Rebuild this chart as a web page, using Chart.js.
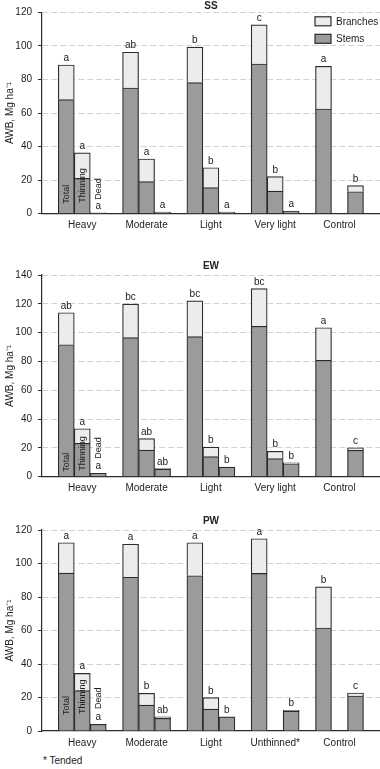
<!DOCTYPE html>
<html>
<head>
<meta charset="utf-8">
<script src="https://cdn.jsdelivr.net/npm/chart.js@4.4.1/dist/chart.umd.min.js"></script>
<style>
  body { margin: 0; background: #fff; }
  #wrap { position: relative; width: 380px; height: 769px; }
  canvas { position: absolute; left: 0; }
  .note { position: absolute; left: 43px; top: 755px; font: 10px "Liberation Sans", Arial, sans-serif; color: #222; }
</style>
</head>
<body>
<div id="wrap">
  <canvas id="chartSS" width="380" height="250" style="top:0"></canvas>
  <canvas id="chartEW" width="380" height="250" style="top:250px"></canvas>
  <canvas id="chartPW" width="380" height="250" style="top:500px"></canvas>
  <div class="note">* Tended</div>
</div>
<script>
const categoriesThinned = ['Heavy', 'Moderate', 'Light', 'Very light', 'Control'];
const categoriesPW = ['Heavy', 'Moderate', 'Light', 'Unthinned*', 'Control'];
const barGroups = ['Total', 'Thinning', 'Dead'];

// SS, Mg/ha
const ssTotalStems = [68.0, 74.9, 78.1, 89.2, 62.4];
const ssTotalBranches = [20.6, 21.3, 21.2, 23.3, 25.4];
const ssThinStems = [21.1, 19.1, 15.5, 13.5, null];
const ssThinBranches = [15.1, 13.5, 11.9, 8.6, null];
const ssDeadStems = [0.5, 1.0, 1.0, 1.6, 13.1];
const ssDeadBranches = [0, 0, 0, 0, 3.6];
const ssTotalLetters = ['a', 'ab', 'b', 'c', 'a'];
const ssThinLetters = ['a', 'a', 'b', 'b', ''];
const ssDeadLetters = ['a', 'a', 'a', 'a', 'b'];

// EW
const ewTotalStems = [91.6, 96.5, 97.2, 104.4, 80.8];
const ewTotalBranches = [22.2, 23.3, 24.9, 26.1, 22.6];
const ewThinStems = [23.2, 18.5, 13.9, 12.5, null];
const ewThinBranches = [10.1, 7.9, 6.7, 5.1, null];
const ewDeadStems = [2.4, 5.3, 6.7, 9.0, 18.3];
const ewDeadBranches = [0, 0.3, 0, 0.7, 1.8];
const ewTotalLetters = ['ab', 'bc', 'bc', 'bc', 'a'];
const ewThinLetters = ['a', 'ab', 'b', 'b', ''];
const ewDeadLetters = ['a', 'ab', 'b', 'b', 'c'];

// PW
const pwTotalStems = [94.3, 91.8, 92.7, 94.1, 61.5];
const pwTotalBranches = [18.1, 19.7, 19.7, 20.7, 24.5];
const pwThinStems = [24.1, 15.5, 13.1, null, null];
const pwThinBranches = [10.3, 7.0, 6.8, null, null];
const pwDeadStems = [4.0, 7.6, 8.5, 11.8, 20.9];
const pwDeadBranches = [0, 0.8, 0, 0.6, 1.8];
const pwTotalLetters = ['a', 'a', 'a', 'a', 'b'];
const pwThinLetters = ['a', 'b', 'b', '', ''];
const pwDeadLetters = ['a', 'ab', 'b', 'b', 'c'];

const STEMS = '#9b9b9b';
const BRANCHES = '#ececec';
const EDGE = '#2b2b2b';
const TEXT = '#222';
const FONT = '"Liberation Sans", Arial, sans-serif';

Chart.defaults.font.family = FONT;
Chart.defaults.font.size = 10;
Chart.defaults.color = TEXT;

const toPoints = (values) => values.map((v, i) => ({ x: i, y: v }));

// one stack per bar slot: stems at the bottom, branches on top
function makeDatasets(stemsLists, branchesLists) {
  const sets = [];
  barGroups.forEach((name, g) => {
    sets.push({
      label: 'Stems',
      stack: name,
      data: toPoints(stemsLists[g]),
      backgroundColor: STEMS,
    });
    sets.push({
      label: 'Branches',
      stack: name,
      data: toPoints(branchesLists[g]),
      backgroundColor: BRANCHES,
    });
  });
  return sets;
}

const panelDecor = {
  id: 'panelDecor',
  afterDatasetsDraw(chart, args, opts) {
    const { ctx, chartArea } = chart;
    const zero = chart.scales.y.getPixelForValue(0);
    ctx.save();
    ctx.fillStyle = TEXT;

    // significance letters above each bar
    ctx.font = '10px ' + FONT;
    ctx.textAlign = 'center';
    ctx.textBaseline = 'alphabetic';
    opts.letters.forEach((list, g) => {
      const meta = chart.getDatasetMeta(g * 2 + 1);
      list.forEach((txt, i) => {
        const bar = meta.data[i];
        if (!txt || !bar || isNaN(bar.y)) return;
        ctx.fillText(txt, bar.x, bar.y - 4);
      });
    });

    // names of the three bars, first cluster only
    ctx.font = '9px ' + FONT;
    ctx.textAlign = 'left';
    ctx.textBaseline = 'middle';
    barGroups.forEach((name, g) => {
      const bar = chart.getDatasetMeta(g * 2).data[0];
      ctx.save();
      ctx.translate(bar.x, zero - opts.nameLift[g]);
      ctx.rotate(-Math.PI / 2);
      ctx.fillText(name, 0, 0);
      ctx.restore();
    });

    // panel title
    ctx.font = 'bold 10px ' + FONT;
    ctx.textAlign = 'center';
    ctx.fillText(opts.title, (chartArea.left + chartArea.right) / 2, chartArea.top - opts.titleLift);

    if (opts.legend) {
      const bx = chartArea.right - 65;
      [['Branches', BRANCHES, 4.5], ['Stems', STEMS, 22]].forEach(([label, fill, dy]) => {
        const by = chartArea.top + dy;
        ctx.fillStyle = fill;
        ctx.fillRect(bx, by, 16, 9);
        ctx.strokeStyle = EDGE;
        ctx.lineWidth = 1.2;
        ctx.strokeRect(bx, by, 16, 9);
        ctx.fillStyle = TEXT;
        ctx.font = '10px ' + FONT;
        ctx.textAlign = 'left';
        ctx.fillText(label, bx + 21, by + 5);
      });
    }
    ctx.restore();
  },
};

function drawPanel(id, cfg) {
  new Chart(document.getElementById(id), {
    type: 'bar',
    data: { datasets: makeDatasets(cfg.stems, cfg.branches) },
    options: {
      responsive: false,
      animation: false,
      layout: { padding: { top: cfg.padTop, right: 0, left: 0, bottom: 0 } },
      datasets: {
        bar: {
          barThickness: 16,
          borderColor: EDGE,
          borderWidth: 1.2,
        },
      },
      plugins: {
        legend: { display: false },
        tooltip: { enabled: false },
        panelDecor: {
          title: cfg.title,
          titleLift: cfg.titleLift,
          letters: cfg.letters,
          nameLift: cfg.nameLift,
          legend: cfg.legend,
        },
      },
      scales: {
        x: {
          type: 'linear',
          offset: false,
          bounds: 'data',
          min: -0.626,
          max: 4.63,
          afterFit: (s) => { s.height = cfg.axisHeight; },
          afterBuildTicks: (s) => { s.ticks = cfg.categories.map((c, i) => ({ value: i })); },
          grid: { display: false, drawTicks: false, offset: false },
          border: { display: true, color: EDGE, width: 1.2 },
          ticks: {
            autoSkip: false,
            maxRotation: 0,
            padding: 6,
            font: { size: 10 },
            callback: (v) => cfg.categories[v] ?? '',
          },
        },
        y: {
          stacked: true,
          min: 0,
          max: cfg.max,
          afterFit: (s) => { s.width = 42; },
          grid: {
            color: (c) => (c.tick && c.tick.value === 0 ? 'rgba(0,0,0,0)' : '#d2d2d2'),
            tickColor: EDGE,
            tickLength: 4,
            tickBorderDash: [],
          },
          border: { display: true, color: EDGE, width: 1.2, dash: [6, 3] },
          ticks: { stepSize: 20, padding: 6, font: { size: 10 } },
          title: {
            display: true,
            text: 'AWB, Mg ha\u207B\u00B9',
            font: { size: 10 },
            padding: { top: 4, bottom: 4 },
          },
        },
      },
    },
    plugins: [panelDecor],
  });
}

drawPanel('chartSS', {
  title: 'SS', max: 120, padTop: 12.3, axisHeight: 36.3, titleLift: 6, legend: true,
  categories: categoriesThinned,
  stems: [ssTotalStems, ssThinStems, ssDeadStems],
  branches: [ssTotalBranches, ssThinBranches, ssDeadBranches],
  letters: [ssTotalLetters, ssThinLetters, ssDeadLetters],
  nameLift: [10, 11, 14],
});

drawPanel('chartEW', {
  title: 'EW', max: 140, padTop: 25, axisHeight: 23.3, titleLift: 9, legend: false,
  categories: categoriesThinned,
  stems: [ewTotalStems, ewThinStems, ewDeadStems],
  branches: [ewTotalBranches, ewThinBranches, ewDeadBranches],
  letters: [ewTotalLetters, ewThinLetters, ewDeadLetters],
  nameLift: [5, 6, 18],
});

drawPanel('chartPW', {
  title: 'PW', max: 120, padTop: 30, axisHeight: 19, titleLift: 9, legend: false,
  categories: categoriesPW,
  stems: [pwTotalStems, pwThinStems, pwDeadStems],
  branches: [pwTotalBranches, pwThinBranches, pwDeadBranches],
  letters: [pwTotalLetters, pwThinLetters, pwDeadLetters],
  nameLift: [16, 17, 22],
});
</script>
</body>
</html>
